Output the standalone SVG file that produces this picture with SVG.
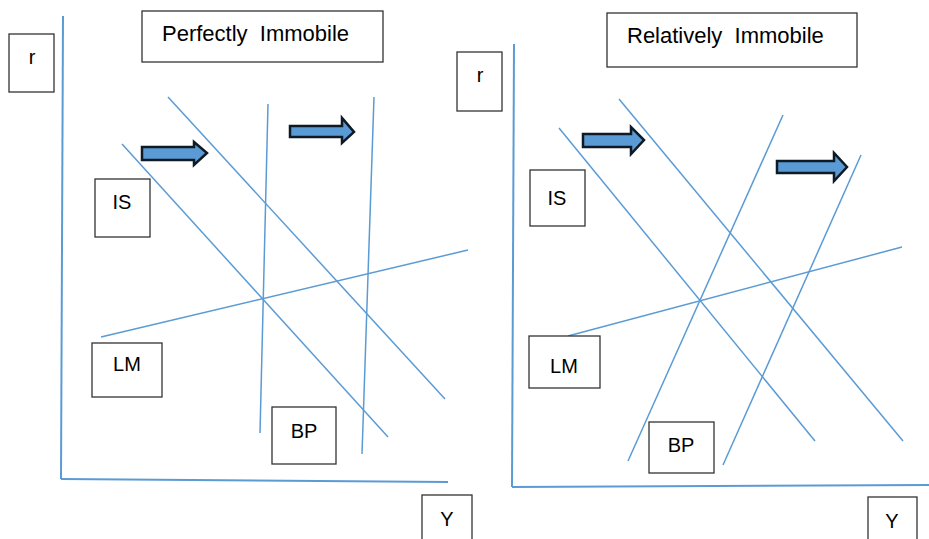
<svg xmlns="http://www.w3.org/2000/svg" width="929" height="539" viewBox="0 0 929 539">
<style>
.ax{stroke:#5B9BD5;stroke-width:2;fill:none}
.ln{stroke:#5B9BD5;stroke-width:1.5;fill:none}
.bx{fill:#fff;stroke:#333;stroke-width:1.3}
.ar{fill:#5B9BD5;stroke:#0E1A26;stroke-width:2.5;stroke-linejoin:miter}
text{font-family:"Liberation Sans",Arial,sans-serif;font-size:20px;fill:#000;white-space:pre}
.t{font-size:22px}
.c{text-anchor:middle}
</style>
<rect width="929" height="539" fill="#fff"/>
<g id="connectors">
  <line class="ax" x1="63" y1="16" x2="61" y2="479"/>
  <line class="ax" x1="61" y1="479" x2="448" y2="482"/>
  <line class="ln" x1="122" y1="144" x2="388" y2="437"/>
  <line class="ln" x1="168" y1="97" x2="445" y2="399"/>
  <line class="ln" x1="268" y1="104" x2="260" y2="433"/>
  <line class="ln" x1="374" y1="97" x2="362" y2="454"/>
  <line class="ln" x1="101" y1="337" x2="468" y2="250"/>
  <line class="ax" x1="514" y1="44" x2="512" y2="487"/>
  <line class="ax" x1="512" y1="487" x2="929" y2="485"/>
  <line class="ln" x1="559" y1="128" x2="815" y2="441"/>
  <line class="ln" x1="619" y1="99" x2="903" y2="441"/>
  <line class="ln" x1="628" y1="461" x2="783" y2="115"/>
  <line class="ln" x1="723" y1="465" x2="861" y2="155"/>
  <line class="ln" x1="568" y1="336" x2="902" y2="247"/>
</g>
<g id="arrow-left-1"><polygon class="ar" points="142,147 194,147 194,142 207,153 194,165 194,160 142,160"/></g>
<g id="arrow-left-2"><polygon class="ar" points="290,126 342,126 342,118 354,132 342,143 342,137 290,137"/></g>
<g id="arrow-right-1"><polygon class="ar" points="583,134 631,134 631,127 644,140 631,154 631,147 583,147"/></g>
<g id="arrow-right-2"><polygon class="ar" points="777,161 834,161 834,153 847,167 834,181 834,173 777,173"/></g>
<g id="title-left"><rect class="bx" x="142" y="11" width="241" height="51"/><text class="t" x="162" y="41">Perfectly  Immobile</text></g>
<g id="r-left"><rect class="bx" x="9" y="34" width="45" height="58"/><text class="c" x="32" y="64">r</text></g>
<g id="is-left"><rect class="bx" x="95" y="179" width="55" height="58"/><text class="c" x="122" y="209">IS</text></g>
<g id="lm-left"><rect class="bx" x="92" y="343" width="70" height="54"/><text class="c" x="127" y="371">LM</text></g>
<g id="bp-left"><rect class="bx" x="272" y="407" width="64" height="57"/><text class="c" x="304" y="438">BP</text></g>
<g id="y-left"><rect class="bx" x="422" y="495" width="50" height="50"/><text class="c" x="447" y="526">Y</text></g>
<g id="title-right"><rect class="bx" x="607" y="13" width="250" height="54"/><text class="t" x="627" y="43">Relatively  Immobile</text></g>
<g id="r-right"><rect class="bx" x="457" y="52" width="45" height="59"/><text class="c" x="480" y="82">r</text></g>
<g id="is-right"><rect class="bx" x="530" y="170" width="55" height="56"/><text class="c" x="557" y="205">IS</text></g>
<g id="lm-right"><rect class="bx" x="529" y="336" width="71" height="52"/><text class="c" x="564" y="373">LM</text></g>
<g id="bp-right"><rect class="bx" x="649" y="422" width="65" height="51"/><text class="c" x="681" y="452">BP</text></g>
<g id="y-right"><rect class="bx" x="868" y="497" width="49" height="50"/><text class="c" x="892" y="528">Y</text></g>
</svg>
